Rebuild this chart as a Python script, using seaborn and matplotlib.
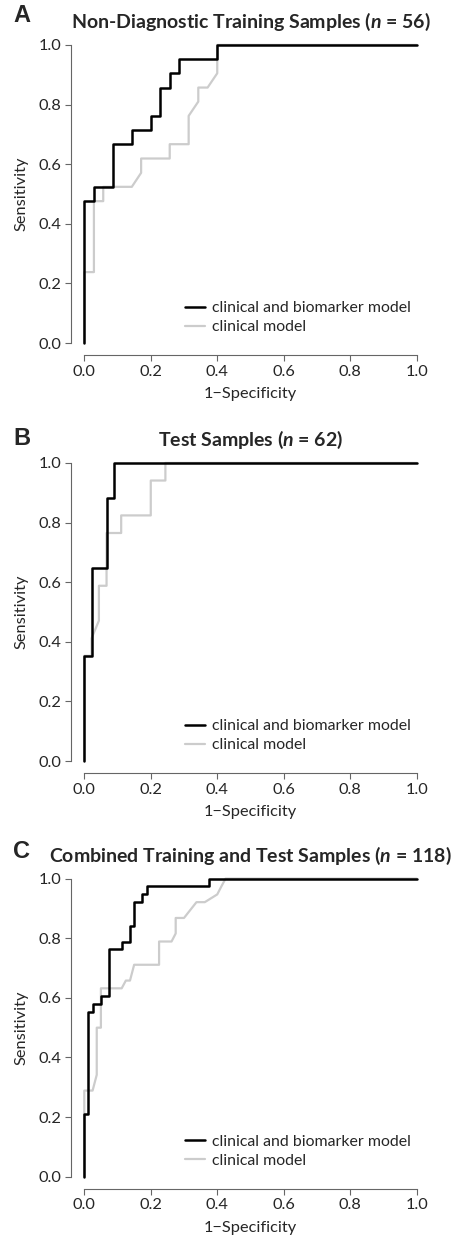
import pandas as pd
import matplotlib.pyplot as plt
import seaborn as sns

# ROC curve points (1-specificity, sensitivity)
a_bio_fpr = [0, 0, 0.029, 0.029, 0.086, 0.086, 0.143, 0.143, 0.2, 0.2, 0.229, 0.229, 0.257, 0.257, 0.286, 0.286, 0.4, 0.4, 1.0]
a_bio_tpr = [0, 0.476, 0.476, 0.524, 0.524, 0.667, 0.667, 0.714, 0.714, 0.762, 0.762, 0.857, 0.857, 0.905, 0.905, 0.952, 0.952, 1.0, 1.0]
a_cli_fpr = [0, 0, 0.029, 0.029, 0.057, 0.057, 0.143, 0.171, 0.171, 0.257, 0.257, 0.314, 0.314, 0.343, 0.343, 0.371, 0.4, 0.4, 1.0]
a_cli_tpr = [0, 0.238, 0.238, 0.476, 0.476, 0.524, 0.524, 0.571, 0.619, 0.619, 0.667, 0.667, 0.762, 0.810, 0.857, 0.857, 0.905, 1.0, 1.0]

b_bio_fpr = [0, 0, 0.022, 0.022, 0.067, 0.067, 0.089, 0.089, 1.0]
b_bio_tpr = [0, 0.353, 0.353, 0.647, 0.647, 0.882, 0.882, 1.0, 1.0]
b_cli_fpr = [0, 0, 0.022, 0.022, 0.044, 0.044, 0.067, 0.067, 0.111, 0.111, 0.2, 0.2, 0.244, 0.244, 1.0]
b_cli_tpr = [0, 0.353, 0.353, 0.412, 0.471, 0.588, 0.588, 0.765, 0.765, 0.824, 0.824, 0.941, 0.941, 1.0, 1.0]

c_bio_fpr = [0, 0, 0.0125, 0.0125, 0.025, 0.025, 0.05, 0.05, 0.075, 0.075, 0.1125, 0.1125, 0.1375, 0.1375,
             0.15, 0.15, 0.175, 0.175, 0.1875, 0.1875, 0.375, 0.375, 1.0]
c_bio_tpr = [0, 0.211, 0.211, 0.553, 0.553, 0.579, 0.579, 0.605, 0.605, 0.763, 0.763, 0.789, 0.789, 0.842,
             0.842, 0.921, 0.921, 0.947, 0.947, 0.974, 0.974, 1.0, 1.0]
c_cli_fpr = [0, 0, 0.025, 0.0375, 0.0375, 0.05, 0.05, 0.1125, 0.125, 0.1375, 0.15, 0.225, 0.225, 0.2625,
             0.275, 0.275, 0.3, 0.3375, 0.3625, 0.4, 0.4125, 0.425, 1.0]
c_cli_tpr = [0, 0.289, 0.289, 0.342, 0.5, 0.5, 0.632, 0.632, 0.658, 0.658, 0.711, 0.711, 0.789, 0.789,
             0.816, 0.868, 0.868, 0.921, 0.921, 0.947, 0.974, 1.0, 1.0]

panel_letters = ["A", "B", "C"]
panel_titles = [r"Non-Diagnostic Training Samples ($\mathit{n}$ = 56)",
                r"Test Samples ($\mathit{n}$ = 62)",
                r"Combined Training and Test Samples ($\mathit{n}$ = 118)"]
series_names = ["clinical and biomarker model", "clinical model"]
ticks = [0.0, 0.2, 0.4, 0.6, 0.8, 1.0]
tick_labels = ["0.0", "0.2", "0.4", "0.6", "0.8", "1.0"]

curves = [
    (a_bio_fpr, a_bio_tpr, a_cli_fpr, a_cli_tpr),
    (b_bio_fpr, b_bio_tpr, b_cli_fpr, b_cli_tpr),
    (c_bio_fpr, c_bio_tpr, c_cli_fpr, c_cli_tpr),
]

sns.set_style("ticks")
plt.rcParams["font.family"] = ["Lato", "DejaVu Sans"]
plt.rcParams["mathtext.fontset"] = "custom"
plt.rcParams["mathtext.it"] = "Lato:italic:bold"
plt.rcParams["mathtext.rm"] = "Lato:bold"

fig = plt.figure(figsize=(4.51, 12.36), dpi=100)

# axes boxes in figure fraction (left, bottom, width, height)
boxes = [(0.1574, 0.7128, 0.796, 0.2605),
         (0.1574, 0.3746, 0.796, 0.2605),
         (0.1574, 0.0383, 0.796, 0.2605)]
letter_y = [1 - 22 / 1236, 1 - 445 / 1236, 1 - 858 / 1236]

for i, (bf, bt, cf, ct) in enumerate(curves):
    ax = fig.add_axes(boxes[i])
    df_bio = pd.DataFrame({"fpr": bf, "tpr": bt})
    df_cli = pd.DataFrame({"fpr": cf, "tpr": ct})
    sns.lineplot(data=df_cli, x="fpr", y="tpr", sort=False, estimator=None,
                 color="#cccccc", linewidth=1.6, ax=ax)
    sns.lineplot(data=df_bio, x="fpr", y="tpr", sort=False, estimator=None,
                 color="black", linewidth=1.8, ax=ax)
    ax.set_xlim(-0.04, 1.04)
    ax.set_ylim(-0.04, 1.04)
    ax.set_xticks(ticks)
    ax.set_xticklabels(tick_labels)
    ax.set_yticks(ticks)
    ax.set_yticklabels(tick_labels)
    ax.tick_params(labelsize=11.8, length=4, width=0.8, color="#666666", pad=3)
    for side in ["top", "right"]:
        ax.spines[side].set_visible(False)
    for side in ["left", "bottom"]:
        ax.spines[side].set_bounds(0, 1)
        ax.spines[side].set_color("#666666")
        ax.spines[side].set_linewidth(0.8)
    ax.set_xlabel("1\u2212Specificity", fontsize=11.8, labelpad=6)
    ax.set_ylabel("Sensitivity", fontsize=11.8, labelpad=7)
    ax.set_title(panel_titles[i], fontsize=14, fontweight="bold", pad=3)

    handles = ax.get_lines()
    ax.legend([handles[1], handles[0]], series_names, loc="lower right",
              bbox_to_anchor=(0.965, 0.045), frameon=False, fontsize=11.4,
              handlelength=1.25, handletextpad=0.45, labelspacing=0.3,
              borderaxespad=0.0)

    fig.text(13 / 451, letter_y[i], panel_letters[i], fontsize=17,
             fontweight="bold", family=["Liberation Sans", "DejaVu Sans"])

fig.savefig("out.png", dpi=100)
